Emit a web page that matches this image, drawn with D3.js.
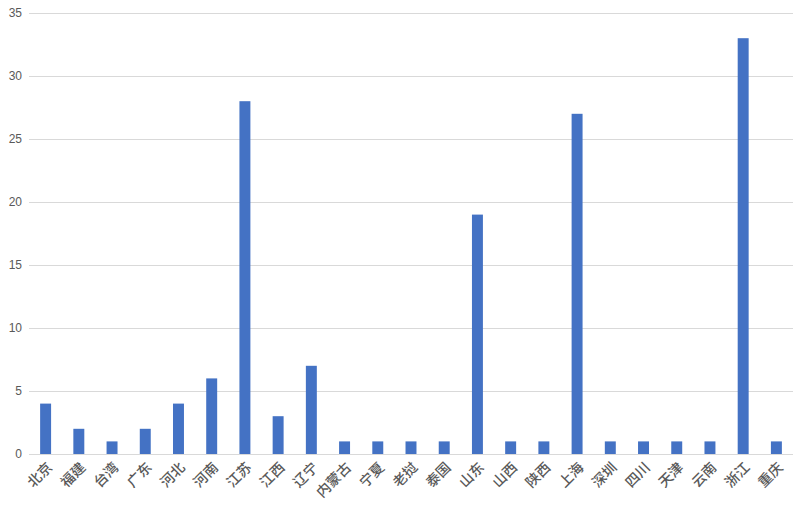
<!DOCTYPE html>
<html><head><meta charset="utf-8">
<script src="https://cdn.jsdelivr.net/npm/d3@7"></script>
<style>body{margin:0;background:#fff}svg{display:block}</style>
</head><body>
<script>
const categories = ["北京","福建","台湾","广东","河北","河南","江苏","江西","辽宁","内蒙古","宁夏","老挝","泰国","山东","山西","陕西","上海","深圳","四川","天津","云南","浙江","重庆"];
const values = [4,2,1,2,4,6,28,3,7,1,1,1,1,19,1,1,27,1,1,1,1,33,1];
const yTicks = [0,5,10,15,20,25,30,35];

const W = 809, H = 509;
const m = {left:29, right:16, top:13, bottom:55};
const svg = d3.select("body").append("svg").attr("width",W).attr("height",H);
const x = d3.scaleBand().domain(categories).range([m.left, W-m.right]).paddingInner(0.67).paddingOuter(0.335);
const y = d3.scaleLinear().domain([0,35]).range([H-m.bottom, m.top]);

const font = "'Noto Sans CJK SC', 'Liberation Sans', sans-serif";
svg.append("g").selectAll("line").data(yTicks).join("line")
  .attr("x1",m.left).attr("x2",W-m.right)
  .attr("y1",d=>Math.round(y(d))+0.5).attr("y2",d=>Math.round(y(d))+0.5)
  .attr("stroke",d=>"#d9d9d9").attr("stroke-width",1);

svg.append("g").selectAll("text").data(yTicks).join("text")
  .attr("x",22).attr("y",d=>y(d)).attr("dy","0.35em").attr("text-anchor","end")
  .attr("font-family","'Liberation Sans', Arial, sans-serif").attr("font-size",12).attr("fill","#595959")
  .text(d=>d);

svg.append("g").selectAll("rect").data(values).join("rect")
  .attr("x",(d,i)=>x(categories[i])).attr("width",x.bandwidth())
  .attr("y",d=>y(d)).attr("height",d=>y(0)-y(d)).attr("fill","#4472c4");

svg.append("g").selectAll("text").data(categories).join("text")
  .attr("transform",d=>`translate(${x(d)+x.bandwidth()/2+4},${y(0)+11}) rotate(-45)`)
  .attr("text-anchor","end").attr("dy","0.35em")
  .attr("font-family",font).attr("font-size",14).attr("font-weight",500).attr("fill","#595959")
  .text(d=>d);
</script>
</body></html>
